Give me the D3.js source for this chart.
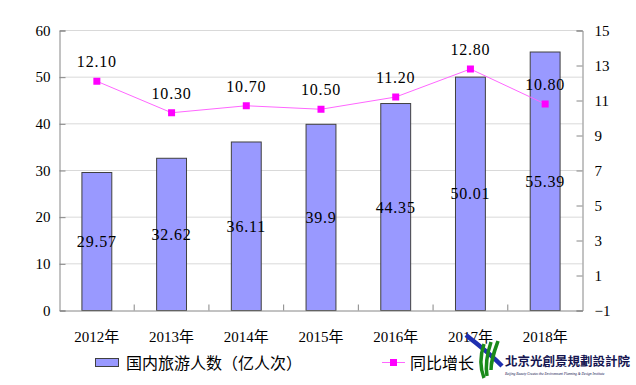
<!DOCTYPE html>
<html><head><meta charset="utf-8">
<script src="https://cdn.jsdelivr.net/npm/d3@7/dist/d3.min.js"></script>
<style>
body{margin:0;background:#fff;}
svg{display:block;}
</style></head>
<body><svg id="c" width="636" height="385"></svg>
<script>
const years = ["2012年","2013年","2014年","2015年","2016年","2017年","2018年"];
const tourists = [29.57, 32.62, 36.11, 39.9, 44.35, 50.01, 55.39];
const growth = [12.10, 10.30, 10.70, 10.50, 11.20, 12.80, 10.80];
const leftTicks = [0,10,20,30,40,50,60];
const rightTicks = [-1,1,3,5,7,9,11,13,15];
const legendBar = "国内旅游人数（亿人次）";
const legendLine = "同比增长";

const SERIF = '"Liberation Serif","Times New Roman","DejaVu Serif","Noto Sans CJK SC",serif';
const CJK = '"Noto Sans CJK SC",sans-serif';
const svg = d3.select("#c");
const L = 59.5, R = 582.5, T = 30.5, B = 310.5;

const x = d3.scaleBand().domain(years).range([L, R]).paddingInner(0.6).paddingOuter(0.3);
const y = d3.scaleLinear().domain([0,60]).range([B, T]);
const y2 = d3.scaleLinear().domain([-1,15]).range([B, T]);

// gridlines
svg.append("g").selectAll("line").data(leftTicks.filter(d=>d>0)).join("line")
  .attr("x1", L).attr("x2", R).attr("y1", d=>y(d)).attr("y2", d=>y(d))
  .attr("stroke", "#d9d9d9").attr("stroke-width", 1);

// bars
svg.append("g").selectAll("rect").data(tourists).join("rect")
  .attr("x", (d,i)=>x(years[i])).attr("width", x.bandwidth())
  .attr("y", d=>y(d)).attr("height", d=>B - y(d))
  .attr("fill", "#9999FF").attr("stroke", "#404040").attr("stroke-width", 1);

// axes
const axL = svg.append("g").attr("transform", `translate(${L},0)`)
  .call(d3.axisLeft(y).tickValues(leftTicks).tickSize(-6).tickPadding(9).tickFormat(d3.format("d")));
const axR = svg.append("g").attr("transform", `translate(${R},0)`)
  .call(d3.axisRight(y2).tickValues(rightTicks).tickSize(-6).tickPadding(12).tickFormat(d3.format("d")));
const axB = svg.append("g").attr("transform", `translate(0,${B})`)
  .call(d3.axisBottom(x).tickSize(0).tickPadding(21));
[axL, axR, axB].forEach(a=>{
  a.attr("font-family", null);
  a.select(".domain").attr("stroke", "#868686");
  a.selectAll(".tick line").attr("stroke", "#868686");
  a.selectAll("text").attr("fill", "#000")
    .style("font-family", SERIF).style("font-size", "15px");
});
// category boundary ticks
svg.append("g").selectAll("line").data(years.slice(1)).join("line")
  .attr("x1", d=>x(d) - x.step()*x.paddingInner()/2).attr("x2", d=>x(d) - x.step()*x.paddingInner()/2)
  .attr("y1", B).attr("y2", B-6).attr("stroke", "#868686");

// bar labels
svg.append("g").selectAll("text").data(tourists).join("text")
  .attr("x", (d,i)=>x(years[i]) + x.bandwidth()/2)
  .attr("y", d=>(y(d)+B)/2).attr("dy", "0.35em")
  .attr("text-anchor", "middle").attr("letter-spacing", "0.8")
  .style("font-family", SERIF).style("font-size", "16px")
  .text(d=>String(d));

// line
const cx = i => x(years[i]) + x.bandwidth()/2;
svg.append("path").datum(growth)
  .attr("d", d3.line().x((d,i)=>cx(i)).y(d=>y2(d)))
  .attr("fill", "none").attr("stroke", "#FF66FF").attr("stroke-width", 1);
svg.append("g").selectAll("rect").data(growth).join("rect")
  .attr("x", (d,i)=>cx(i)-3.5).attr("y", d=>y2(d)-3.5).attr("width", 7).attr("height", 7)
  .attr("fill", "#FF00FF");
svg.append("g").selectAll("text").data(growth).join("text")
  .attr("x", (d,i)=>cx(i)).attr("y", d=>y2(d)-14)
  .attr("text-anchor", "middle").attr("letter-spacing", "0.8")
  .style("font-family", SERIF).style("font-size", "16px")
  .text(d=>d.toFixed(2));

// legend
const lg = svg.append("g");
lg.append("rect").attr("x", 95.5).attr("y", 358.5).attr("width", 23).attr("height", 8)
  .attr("fill", "#9999FF").attr("stroke", "#404040");
lg.append("text").attr("x", 126).attr("y", 369)
  .style("font-family", CJK).style("font-size", "16px").text(legendBar);
lg.append("line").attr("x1", 382).attr("x2", 405).attr("y1", 362.5).attr("y2", 362.5)
  .attr("stroke", "#FF66FF");
lg.append("rect").attr("x", 390).attr("y", 359).attr("width", 7).attr("height", 7).attr("fill", "#FF00FF");
lg.append("text").attr("x", 410).attr("y", 369)
  .style("font-family", CJK).style("font-size", "16px").text(legendLine);

// watermark
const wm = svg.append("g");
wm.append("path").attr("d", "M466,335 C478,345 488,352 502,366")
  .attr("fill", "none").attr("stroke", "#1f2fb0").attr("stroke-width", 4.5);
["M484,344 C480,356 480,368 484,378","M491,342 C487,354 485,364 487,376","M498,341 C494,352 491,360 491,370"].forEach(p=>{
  wm.append("path").attr("d", p).attr("fill", "none").attr("stroke", "#1a8a1a").attr("stroke-width", 3.5);
});
wm.append("text").attr("x", 505).attr("y", 366).attr("font-weight", "bold").attr("fill", "#151550")
  .style("font-family", '"Noto Sans CJK TC",sans-serif').style("font-size", "12.5px").text("北京光創景規劃設計院");
wm.append("text").attr("x", 505).attr("y", 375).attr("font-style", "italic").attr("fill", "#151550")
  .style("font-family", SERIF).style("font-size", "3.6px")
  .text("Beijing Beauty Creates the Environment Planning & Design Institute");
</script></body></html>
